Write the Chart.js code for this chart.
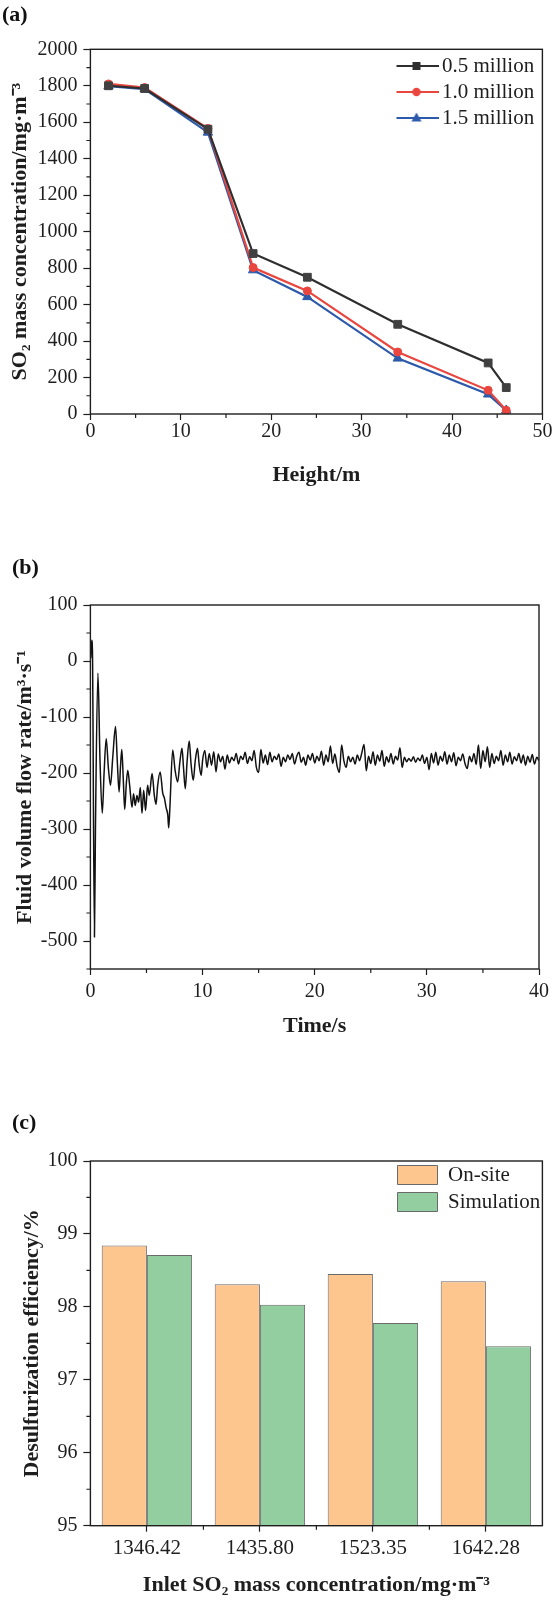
<!DOCTYPE html>
<html lang="en">
<head>
<meta charset="UTF-8">
<title>SO2 concentration, flow rate and desulfurization efficiency</title>
<script src="https://cdn.jsdelivr.net/npm/chart.js"></script>
<style>
  body { margin: 0; background: #fff; }
  #page { position: relative; width: 554px; height: 1600px; background: #fff; }
  #page canvas { position: absolute; left: 0; }
  .tag { position: absolute; font: bold 22px 'Liberation Serif', 'Times New Roman', serif; line-height: 22px; color: #111; }
</style>
</head>
<body>
<div id="page">
  <canvas id="chartA" width="554" height="490" style="top:0;width:554px;height:490px"></canvas>
  <canvas id="chartB" width="554" height="555" style="top:490px;width:554px;height:555px"></canvas>
  <canvas id="chartC" width="554" height="555" style="top:1045px;width:554px;height:555px"></canvas>
  <div class="tag" style="left:2px;top:3px">(a)</div>
  <div class="tag" style="left:12px;top:556px">(b)</div>
  <div class="tag" style="left:12px;top:1111px">(c)</div>
</div>

<script>
// (a) SO2 concentration along the tower height
const heightM = [2, 6, 13, 18, 24, 34, 44, 46];
const so2Half = [1800, 1785, 1562, 880, 750, 492, 280, 145];
const so2One = [1810, 1790, 1566, 803, 675, 340, 130, 20];
const so2OneHalf = [1798, 1782, 1544, 789, 642, 305, 108, 20];
const seriesNamesA = ['0.5 million', '1.0 million', '1.5 million'];
const heightTicks = [0, 10, 20, 30, 40, 50];
const so2Ticks = [0, 200, 400, 600, 800, 1000, 1200, 1400, 1600, 1800, 2000];

// (b) fluid volume flow rate over time, [time s, rate]
const flowPoints = [
  [0.03, 5], [0.12, 37], [0.18, 20], [0.36, -493], [0.45, -300],
  [0.67, -22], [0.86, -180], [1.06, -272], [1.22, -200], [1.41, -139],
  [1.6, -190], [1.79, -222], [2.0, -170], [2.24, -117], [2.4, -180],
  [2.56, -234], [2.68, -190], [2.8, -158], [2.93, -210], [3.06, -265],
  [3.2, -220], [3.33, -195], [3.5, -222], [3.71, -261], [3.85, -237],
  [4.0, -258], [4.15, -240], [4.3, -252], [4.45, -226], [4.6, -272],
  [4.75, -231], [4.92, -267], [5.1, -222], [5.25, -240], [5.5, -201],
  [5.7, -240], [5.85, -256], [6.0, -222], [6.22, -198], [6.45, -236],
  [6.6, -245], [6.75, -262], [6.9, -275], [6.98, -298], [7.08, -265],
  [7.34, -159], [7.55, -195], [7.78, -216], [7.98, -180], [8.17, -156],
  [8.3, -190], [8.46, -228], [8.62, -180], [8.81, -143], [8.98, -185],
  [9.17, -213], [9.35, -178], [9.55, -156], [9.7, -185], [9.88, -204],
  [10.0, -178], [10.2, -160], [10.4, -190], [10.6, -165], [10.8, -186],
  [11.0, -162], [11.2, -198], [11.4, -166], [11.6, -180], [11.8, -170],
  [12.0, -193], [12.2, -168], [12.4, -182], [12.6, -172], [12.8, -178],
  [13.0, -165], [13.2, -184], [13.4, -170], [13.6, -176], [13.8, -163],
  [14.0, -183], [14.2, -171], [14.4, -178], [14.6, -160], [14.8, -190],
  [15.0, -199], [15.2, -158], [15.4, -182], [15.6, -168], [15.8, -185],
  [16.0, -163], [16.2, -180], [16.4, -170], [16.6, -176], [16.8, -166],
  [17.0, -188], [17.2, -172], [17.4, -180], [17.6, -168], [17.8, -176],
  [18.0, -165], [18.2, -184], [18.4, -170], [18.6, -163], [18.8, -181],
  [19.0, -172], [19.2, -186], [19.4, -168], [19.6, -177], [19.8, -165],
  [20.0, -182], [20.2, -170], [20.4, -178], [20.6, -161], [20.8, -186],
  [21.0, -168], [21.2, -180], [21.4, -152], [21.6, -183], [21.8, -166],
  [22.0, -188], [22.2, -199], [22.4, -150], [22.6, -178], [22.8, -190],
  [23.0, -170], [23.2, -180], [23.4, -172], [23.6, -184], [23.8, -168],
  [24.0, -178], [24.2, -164], [24.4, -149], [24.6, -196], [24.8, -170],
  [25.0, -183], [25.2, -162], [25.4, -186], [25.6, -168], [25.8, -179],
  [26.0, -160], [26.2, -188], [26.4, -171], [26.6, -181], [26.8, -165],
  [27.0, -184], [27.2, -170], [27.4, -177], [27.6, -155], [27.8, -190],
  [28.0, -172], [28.2, -180], [28.4, -174], [28.6, -179], [28.8, -171],
  [29.0, -181], [29.2, -173], [29.4, -178], [29.6, -168], [29.8, -183],
  [30.0, -172], [30.2, -194], [30.4, -165], [30.6, -182], [30.8, -163],
  [31.0, -186], [31.2, -170], [31.4, -179], [31.6, -162], [31.8, -184],
  [32.0, -168], [32.2, -180], [32.4, -164], [32.6, -187], [32.8, -172],
  [33.0, -178], [33.2, -166], [33.4, -183], [33.6, -192], [33.8, -170],
  [34.0, -180], [34.2, -165], [34.4, -185], [34.6, -150], [34.8, -192],
  [35.0, -160], [35.2, -180], [35.4, -153], [35.6, -190], [35.8, -165],
  [36.0, -183], [36.2, -170], [36.4, -178], [36.6, -160], [36.8, -186],
  [37.0, -168], [37.2, -180], [37.4, -163], [37.6, -184], [37.8, -171],
  [38.0, -178], [38.2, -165], [38.4, -182], [38.6, -168], [38.8, -186],
  [39.0, -170], [39.2, -181], [39.4, -167], [39.6, -184], [39.8, -172],
  [40.0, -178]
];
const timeTicks = [0, 10, 20, 30, 40];
const flowTicks = [-500, -400, -300, -200, -100, 0, 100];

// (c) desulfurization efficiency
const inletLabels = ['1346.42', '1435.80', '1523.35', '1642.28'];
const onSite = [98.84, 98.31, 98.45, 98.35];
const simulation = [98.71, 98.03, 97.78, 97.46];
const seriesNamesC = ['On-site', 'Simulation'];
const effTicks = [95, 96, 97, 98, 99, 100];

const FONT = "'Liberation Serif', 'Times New Roman', serif";
const INK = '#1e1e1e';
Chart.defaults.font.family = FONT;
Chart.defaults.color = INK;

// box round the plot plus the short minor ticks
const frameAndMinor = {
  id: 'frameAndMinor',
  afterDraw(chart, args, opts) {
    const { ctx, chartArea: a } = chart;
    ctx.save();
    ctx.strokeStyle = INK;
    ctx.lineWidth = 1.2;
    (opts.minor || []).forEach(m => {
      const s = chart.scales[m.axis];
      const from = m.from ?? s.min, to = m.to ?? s.max;
      const majors = s.ticks.map(t => t.value);
      ctx.beginPath();
      for (let i = 0; from + i * m.step <= to + 1e-9; i++) {
        const v = from + i * m.step;
        if (!m.keepMajor && majors.some(t => Math.abs(t - v) < 1e-9)) continue;
        const p = s.getPixelForValue(v);
        if (s.isHorizontal()) { ctx.moveTo(p, a.bottom); ctx.lineTo(p, a.bottom + 4); }
        else { ctx.moveTo(a.left, p); ctx.lineTo(a.left - 4, p); }
      }
      ctx.stroke();
    });
    ctx.lineWidth = 1.4;
    ctx.strokeRect(a.left, a.top, a.right - a.left, a.bottom - a.top);
    ctx.restore();
  }
};

// legend laid out as a column but placed inside the plot box
const legendInPlot = {
  id: 'legendInPlot',
  beforeLayout(chart) {
    const lg = chart.legend;
    if (lg && !lg._inPlot) {
      const fit = lg.fit;
      lg.fit = function () { fit.call(this); this.width = 0; };
      lg._inPlot = true;
    }
  },
  afterLayout(chart, args, opts) {
    const lg = chart.legend;
    if (!lg) return;
    lg.left = opts.left; lg.top = opts.top;
    lg.width = 200; lg.right = lg.left + 200;
    lg.height = 200; lg.bottom = lg.top + 200;
  }
};

function yAxis(min, max, tickList, title, titlePad) {
  return {
    min: min, max: max,
    afterFit: s => { s.width = 90.4; },
    afterBuildTicks: s => { s.ticks = tickList.map(v => ({ value: v })); },
    border: { display: false },
    grid: { drawOnChartArea: false, tickLength: 7, tickColor: INK, tickWidth: 1.2 },
    ticks: { font: { size: 20 }, color: INK, padding: 6, autoSkip: false, callback: v => String(v) },
    title: { display: true, text: title, color: INK, font: { size: 22, weight: 'bold' }, padding: { top: titlePad, bottom: 0 } }
  };
}

function xAxis(extra, height, title, titlePad, labelPad, labelSize) {
  return Object.assign({
    afterFit: s => { s.height = height; },
    border: { display: false },
    grid: { drawOnChartArea: false, offset: false, tickLength: 6, tickColor: INK, tickWidth: 1.2 },
    ticks: { font: { size: labelSize }, color: INK, padding: labelPad, autoSkip: false, maxRotation: 0 },
    title: { display: true, text: title, color: INK, font: { size: 22, weight: 'bold' }, padding: { top: 0, bottom: titlePad } }
  }, extra);
}

function legendIcon(color, style) {
  const c = document.createElement('canvas');
  c.width = 44; c.height = 14;
  const g = c.getContext('2d');
  g.strokeStyle = color; g.fillStyle = color; g.lineWidth = 2.2;
  g.beginPath(); g.moveTo(0, 7); g.lineTo(44, 7); g.stroke();
  g.beginPath();
  if (style === 'rect') g.rect(18, 3, 8, 8);
  else if (style === 'circle') g.arc(22, 7, 4.2, 0, Math.PI * 2);
  else { g.moveTo(22, 1.5); g.lineTo(27, 10.5); g.lineTo(17, 10.5); g.closePath(); }
  g.fill();
  return c;
}

const colorsA = ['#2e2e2e', '#e8463f', '#2d5aaa'];
const pointColorsA = ['#404040', '#e8463f', '#2d5aaa'];
const stylesA = ['rect', 'circle', 'triangle'];
const radiiA = [5.5, 4, 5.4];
const iconsA = colorsA.map((c, i) => legendIcon(c, stylesA[i]));

new Chart(document.getElementById('chartA'), {
  type: 'line',
  data: {
    datasets: [so2Half, so2One, so2OneHalf].map((vals, i) => ({
      label: seriesNamesA[i],
      data: heightM.map((h, j) => ({ x: h, y: vals[j] })),
      borderColor: colorsA[i],
      backgroundColor: pointColorsA[i],
      pointBackgroundColor: pointColorsA[i],
      pointBorderColor: pointColorsA[i],
      pointStyle: stylesA[i],
      pointRadius: radiiA[i],
      pointBorderWidth: 1,
      borderWidth: 2.2,
      tension: 0
    }))
  },
  options: {
    responsive: false,
    animation: false,
    layout: { padding: { top: 49.3, right: 11.6, left: 0, bottom: 0 } },
    scales: {
      x: xAxis({ type: 'linear', min: 0, max: 50,
        afterBuildTicks: s => { s.ticks = heightTicks.map(v => ({ value: v })); } }, 76, 'Height/m', 1.8, 0, 20),
      y: yAxis(0, 2000, so2Ticks, 'SO₂ mass concentration/mg·m⁻³', 6.8)
    },
    plugins: {
      legend: {
        position: 'right', align: 'start',
        labels: {
          usePointStyle: true, pointStyleWidth: 30, boxHeight: 14, padding: 5,
          font: { size: 21 }, color: INK,
          generateLabels: chart => Chart.defaults.plugins.legend.labels.generateLabels(chart)
            .map((item, i) => Object.assign(item, { pointStyle: iconsA[i] }))
        }
      },
      tooltip: { enabled: false },
      legendInPlot: { left: 396.5, top: 50.5 },
      frameAndMinor: { minor: [{ axis: 'x', step: 5 }, { axis: 'y', step: 100 }] }
    }
  },
  plugins: [legendInPlot, frameAndMinor]
});

new Chart(document.getElementById('chartB'), {
  type: 'line',
  data: {
    datasets: [{
      label: 'Fluid volume flow rate',
      data: flowPoints.map(p => ({ x: p[0], y: p[1] })),
      borderColor: '#111',
      borderWidth: 1.5,
      pointRadius: 0,
      cubicInterpolationMode: 'monotone'
    }]
  },
  options: {
    responsive: false,
    animation: false,
    layout: { padding: { top: 115, right: 11.6, left: 0, bottom: 0 } },
    scales: {
      x: xAxis({ type: 'linear', min: 0, max: 40,
        afterBuildTicks: s => { s.ticks = timeTicks.map(v => ({ value: v })); } }, 76, 'Time/s', 5.8, 5, 20),
      y: yAxis(-550, 100, flowTicks, 'Fluid volume flow rate/m³·s⁻¹', 11.8)
    },
    plugins: {
      legend: { display: false },
      tooltip: { enabled: false },
      frameAndMinor: { minor: [{ axis: 'x', step: 5 }, { axis: 'y', step: 50 }] }
    }
  },
  plugins: [frameAndMinor]
});

new Chart(document.getElementById('chartC'), {
  type: 'bar',
  data: {
    labels: inletLabels,
    datasets: [
      { label: seriesNamesC[0], data: onSite, backgroundColor: '#fdc68f', borderColor: '#6a6a6a', borderWidth: 1, base: 95 },
      { label: seriesNamesC[1], data: simulation, backgroundColor: '#93cea0', borderColor: '#6a6a6a', borderWidth: 1, base: 95 }
    ]
  },
  options: {
    responsive: false,
    animation: false,
    layout: { padding: { top: 116, right: 11.6, left: 0, bottom: 0 } },
    datasets: { bar: { categoryPercentage: 0.8, barPercentage: 1.0 } },
    scales: {
      x: xAxis({ type: 'category', offset: true }, 74.3, 'Inlet SO₂ mass concentration/mg·m⁻³', 1.8, 4.5, 21),
      y: yAxis(95, 100, effTicks, 'Desulfurization efficiency/%', 18.8)
    },
    plugins: {
      legend: {
        position: 'right', align: 'start',
        labels: { boxWidth: 40, boxHeight: 19, padding: 6, font: { size: 21 }, color: INK }
      },
      tooltip: { enabled: false },
      legendInPlot: { left: 391.5, top: 113.5 },
      frameAndMinor: { minor: [{ axis: 'x', from: 0.5, to: 2.5, step: 1, keepMajor: true }, { axis: 'y', step: 0.5 }] }
    }
  },
  plugins: [legendInPlot, frameAndMinor]
});
</script>
</body>
</html>
